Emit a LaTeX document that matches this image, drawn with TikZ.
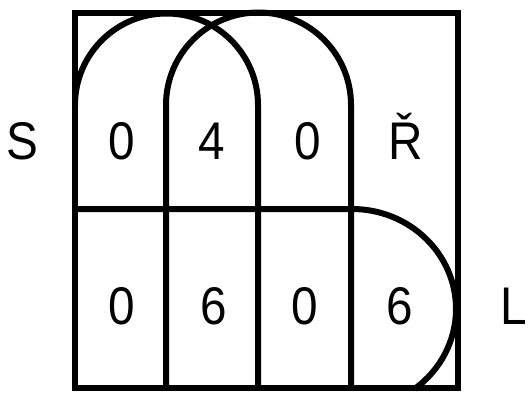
\documentclass[tikz,border=0pt]{standalone}
\usepackage{fontspec}
\setmainfont{Liberation Sans}[FakeStretch=0.9]
\begin{document}
\begin{tikzpicture}[x=1pt,y=1pt,
  stroke/.style={line width=6pt, line join=miter},
  lbl/.style={anchor=base, inner sep=0pt, font=\fontsize{53}{53}\selectfont}]
\useasboundingbox (0,0) rectangle (529,392);
% outer square
\draw[stroke] (75,4) rectangle (458,379);
% middle horizontal line and right half-disc
\draw[stroke] (75,183) -- (352,183) arc[start angle=90,end angle=-53.13,x radius=104,y radius=100];
% left arch
\draw[stroke] (75,287) arc[start angle=180,end angle=0,radius=91.5] -- (258,4);
% right arch
\draw[stroke] (166,4) -- (166,287) arc[start angle=180,end angle=0,radius=92.5] -- (351,4);
% labels
\node[lbl] (s) at (22,233) {S};
\node[lbl] (t1) at (122,233) {0};
\node[lbl] (t2) at (212,233) {4};
\node[lbl] (t3) at (308,233) {0};
\node[lbl] (t4) at (406,233) {Ř};
\node[lbl] (b1) at (122,68) {0};
\node[lbl] (b2) at (214,68) {6};
\node[lbl] (b3) at (305,68) {0};
\node[lbl] (b4) at (400,68) {6};
\node[lbl] (l) at (514,68) {L};
\end{tikzpicture}
\end{document}
